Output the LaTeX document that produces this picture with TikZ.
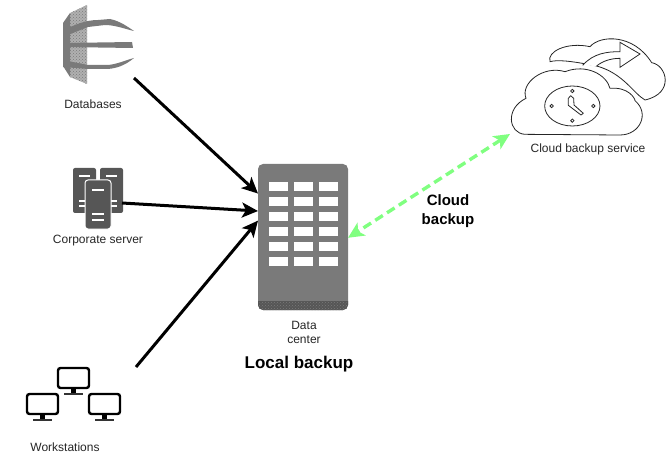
\documentclass[tikz,border=0pt]{standalone}
\usepackage{fontspec}
\setmainfont{Liberation Sans}
\usetikzlibrary{arrows.meta, calc, patterns}
\tikzset{icon labels/.style={font=\fontsize{12}{14}\selectfont,text=black!85,align=center,inner sep=0pt}}
\tikzset{title labels/.style={font=\fontsize{17}{19}\selectfont\bfseries,align=center,inner sep=0pt}}
\tikzset{backup link/.style={-{Stealth[length=16pt,width=15pt,inset=4pt]},line width=3pt,black}}
\tikzset{cloud link/.style={{Stealth[length=16pt,width=15pt,inset=4pt]}-{Stealth[length=16pt,width=15pt,inset=4pt]},line width=3.4pt,color=linkgreen,dash pattern=on 9pt off 5pt}}
\tikzset{slot/.style={fill=white,draw=none}}
\tikzset{cloud line/.style={draw=black!85,line width=.8pt,fill=white}}
\definecolor{iconmid}{HTML}{7A7A7A}
\definecolor{icondark}{HTML}{565656}
\definecolor{iconlight}{HTML}{B0B0B0}
\definecolor{linkgreen}{HTML}{80FF80}
\begin{document}
\begin{tikzpicture}[x=1pt,y=-1pt]
                    \useasboundingbox (0,0) rectangle (669,457);

                    % databases
                    \fill[iconlight] (70,13) -- (87,5) -- (87,84) -- (70,77) -- cycle;
                    \fill[pattern=crosshatch dots,pattern color=iconmid] (70,13) -- (87,5) -- (87,84) -- (70,77) -- cycle;
                    \fill[iconmid] (63,23) -- (70,13) -- (70,77) -- (63,66) -- cycle;
                    \fill[iconmid] (63,30) .. controls (75,25) and (85,20) .. (98,20) -- (110,19) .. controls (120,21) and (128,27) .. (134,31) .. controls (125,29) and (115,25) .. (105,25) -- (88,27) -- (63,37) -- cycle;
                    \fill[iconmid] (63,43) -- (132,42) -- (133,48) -- (63,47) -- cycle;
                    \fill[iconmid] (63,60) -- (88,65) -- (108,65) .. controls (118,64) and (126,60) .. (134,58) .. controls (128,63) and (120,68) .. (108,69) -- (88,69) -- (63,67) -- cycle;
                    \node[icon labels] (databases) at (93,104) {Databases};

                    % corporate server
                    \foreach \sx in {73,100}{
                      \fill[icondark,rounded corners=2pt] (\sx,168) rectangle +(23,45);
                      \fill[white] (\sx+6,175) rectangle +(11,2);
                      \fill[white] (\sx+6,200) rectangle +(11,2);
                      \fill[white] (\sx+6,205) rectangle +(11,2);
                    }
                    \fill[icondark,draw=white,line width=1pt,rounded corners=3pt] (85,180) rectangle (111,229);
                    \fill[white] (92,189) rectangle +(12,2);
                    \fill[white] (92,213) rectangle +(12,2);
                    \fill[white] (92,219) rectangle +(12,2);
                    \node[icon labels] (server) at (98,241) {Corporate server};

                    % workstations
                    \foreach \mx/\my in {57/367,26/393,88/393}{
                      \draw[black,line width=2.4pt,rounded corners=2.5pt] (\mx+1,\my+1) rectangle +(31,20);
                      \fill[black] (\mx+14,\my+21) rectangle +(5,5);
                      \fill[black!80] (\mx+7,\my+26) rectangle +(19,1.5);
                    }
                    \node[icon labels] (workstations) at (65,447) {Workstations};

                    % data center
                    \node[fill=iconmid,rounded corners=5pt,minimum width=90pt,minimum height=146pt,inner sep=0pt,outer sep=0pt] (center) at (303,237) {};
                    \fill[icondark,rounded corners=5pt] (258,296) -- (258,310) -- (348,310) -- (348,296) -- cycle;
                    \fill[iconmid] (258,293) rectangle (348,301);
                    \fill[pattern=crosshatch dots,pattern color=iconmid,rounded corners=5pt] (258,301) -- (258,310) -- (348,310) -- (348,301) -- cycle;
                    \foreach \wx in {269,294,319}
                      \foreach \wy in {182,197,212,227,242,257}
                        \fill[slot] (\wx,\wy) rectangle +(19,9);
                    \node[icon labels] (centerlabel) at (304,332) {Data\\center};
                    \node[title labels] (local) at (299,364) {Local backup};

                    % cloud backup service
                    \begin{scope}[shift={(500,30)},scale=1/3]
                      \draw[cloud line] (150,95) .. controls (140,65) and (200,35) .. (270,50) .. controls (300,15) and (400,10) .. (455,98) .. controls (500,105) and (525,190) .. (435,210) .. controls (400,190) and (370,130) .. (290,108) .. controls (200,90) and (170,90) .. (150,95) -- cycle;
                      \draw[cloud line] (248,106) .. controls (280,70) and (320,65) .. (360,65) -- (360,37) -- (420,72) -- (360,112) -- (360,85) .. controls (330,85) and (305,95) .. (290,108);
                      \draw[cloud line] (75,313) .. controls (25,310) and (15,235) .. (78,205) .. controls (60,160) and (130,105) .. (195,125) .. controls (260,100) and (320,135) .. (330,175) .. controls (385,170) and (405,205) .. (405,212) .. controls (450,250) and (420,315) .. (360,315) -- cycle;
                      \draw[cloud line] (217,228) ellipse [x radius=83,y radius=60];
                      \draw[cloud line] (217,183) circle (5) (217,272) circle (5) (155,228) circle (5) (280,228) circle (5);
                      \draw[cloud line,line join=round] (205,205) -- (212,197) -- (221,205) -- (222,225) -- (250,250) -- (243,255) -- (205,226) -- cycle;
                    \end{scope}
                    \node[icon labels] (service) at (588,149) {Cloud backup service};
                    \node[title labels,font=\fontsize{15}{19}\selectfont\bfseries] (cloudbackup) at (448,211) {Cloud\\backup};

                    \coordinate (databasesout) at (134,78);
                    \coordinate (serverout) at (122,203);
                    \coordinate (workstationsout) at (136,367);
                    \coordinate (serviceout) at (510,134);

                    \draw[backup link] (databasesout) -- (center.136);
                    \draw[backup link] (serverout) -- (center.150);
                    \draw[backup link] (workstationsout) -- (center.160);
                    \draw[cloud link] (serviceout) -- (center.-1);
                \end{tikzpicture}
\end{document}
